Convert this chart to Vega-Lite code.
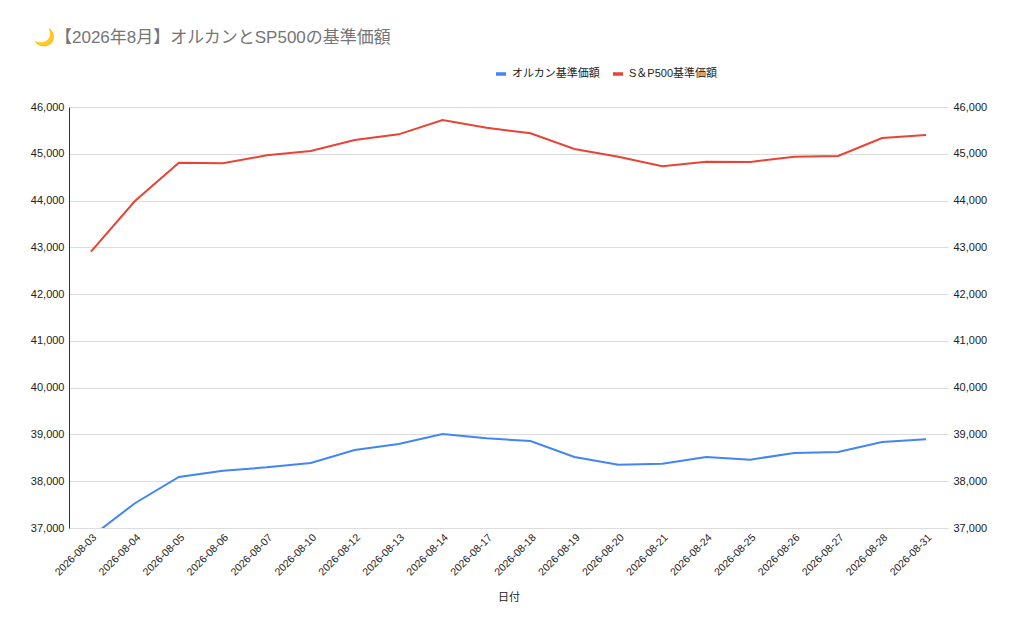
{
  "$schema": "https://vega.github.io/schema/vega-lite/v6.json",
  "width": 879,
  "height": 421,
  "autosize": {"type": "none"},
  "padding": {"left": 69, "top": 107, "right": 76, "bottom": 106},
  "background": "white",
  "config": {
    "font": "Liberation Sans, Noto Sans CJK JP, sans-serif",
    "view": {"stroke": null}
  },
  "title": {
    "text": "🌙【2026年8月】オルカンとSP500の基準価額",
    "anchor": "start",
    "frame": "group",
    "dx": -35,
    "offset": 20,
    "fontSize": 17,
    "fontWeight": "normal",
    "color": "#757575",
    "font": "Liberation Sans, Noto Sans CJK JP, sans-serif"
  },
  "data": {
    "values": [
      {"date": "2026-08-03", "series": "オルカン基準価額", "value": 36810},
      {"date": "2026-08-04", "series": "オルカン基準価額", "value": 37530},
      {"date": "2026-08-05", "series": "オルカン基準価額", "value": 38090},
      {"date": "2026-08-06", "series": "オルカン基準価額", "value": 38225},
      {"date": "2026-08-07", "series": "オルカン基準価額", "value": 38297},
      {"date": "2026-08-10", "series": "オルカン基準価額", "value": 38390},
      {"date": "2026-08-12", "series": "オルカン基準価額", "value": 38667},
      {"date": "2026-08-13", "series": "オルカン基準価額", "value": 38796},
      {"date": "2026-08-14", "series": "オルカン基準価額", "value": 39009},
      {"date": "2026-08-17", "series": "オルカン基準価額", "value": 38917},
      {"date": "2026-08-18", "series": "オルカン基準価額", "value": 38860},
      {"date": "2026-08-19", "series": "オルカン基準価額", "value": 38518},
      {"date": "2026-08-20", "series": "オルカン基準価額", "value": 38354},
      {"date": "2026-08-21", "series": "オルカン基準価額", "value": 38375},
      {"date": "2026-08-24", "series": "オルカン基準価額", "value": 38518},
      {"date": "2026-08-25", "series": "オルカン基準価額", "value": 38461},
      {"date": "2026-08-26", "series": "オルカン基準価額", "value": 38603},
      {"date": "2026-08-27", "series": "オルカン基準価額", "value": 38625},
      {"date": "2026-08-28", "series": "オルカン基準価額", "value": 38838},
      {"date": "2026-08-31", "series": "オルカン基準価額", "value": 38896},
      {"date": "2026-08-03", "series": "S＆P500基準価額", "value": 42907},
      {"date": "2026-08-04", "series": "S＆P500基準価額", "value": 43991},
      {"date": "2026-08-05", "series": "S＆P500基準価額", "value": 44809},
      {"date": "2026-08-06", "series": "S＆P500基準価額", "value": 44796},
      {"date": "2026-08-07", "series": "S＆P500基準価額", "value": 44967},
      {"date": "2026-08-10", "series": "S＆P500基準価額", "value": 45060},
      {"date": "2026-08-12", "series": "S＆P500基準価額", "value": 45295},
      {"date": "2026-08-13", "series": "S＆P500基準価額", "value": 45415},
      {"date": "2026-08-14", "series": "S＆P500基準価額", "value": 45722},
      {"date": "2026-08-17", "series": "S＆P500基準価額", "value": 45558},
      {"date": "2026-08-18", "series": "S＆P500基準価額", "value": 45437},
      {"date": "2026-08-19", "series": "S＆P500基準価額", "value": 45102},
      {"date": "2026-08-20", "series": "S＆P500基準価額", "value": 44938},
      {"date": "2026-08-21", "series": "S＆P500基準価額", "value": 44732},
      {"date": "2026-08-24", "series": "S＆P500基準価額", "value": 44831},
      {"date": "2026-08-25", "series": "S＆P500基準価額", "value": 44824},
      {"date": "2026-08-26", "series": "S＆P500基準価額", "value": 44938},
      {"date": "2026-08-27", "series": "S＆P500基準価額", "value": 44952},
      {"date": "2026-08-28", "series": "S＆P500基準価額", "value": 45337},
      {"date": "2026-08-31", "series": "S＆P500基準価額", "value": 45401}
    ]
  },
  "encoding": {
    "x": {
      "field": "date",
      "type": "ordinal",
      "scale": {"type": "point", "padding": 0.5},
      "axis": {
        "title": "日付",
        "titleFontSize": 11,
        "titleFontWeight": "normal",
        "titleColor": "#222222",
        "titlePadding": 14,
        "labelAngle": -45,
        "labelFontSize": 10.5,
        "labelColor": "#222222",
        "labelPadding": 4,
        "ticks": false,
        "domain": false,
        "grid": false
      }
    }
  },
  "layer": [
    {
      "mark": {"type": "line", "strokeWidth": 2, "clip": true},
      "encoding": {
        "y": {
          "field": "value",
          "type": "quantitative",
          "scale": {"domain": [37000, 46000], "nice": false, "zero": false},
          "axis": {
            "orient": "left",
            "title": null,
            "format": ",.0f",
            "values": [37000, 38000, 39000, 40000, 41000, 42000, 43000, 44000, 45000, 46000],
            "labelFontSize": 11,
            "labelColor": "#222222",
            "labelPadding": 5,
            "ticks": false,
            "domain": true,
            "domainColor": "#333333",
            "grid": true,
            "gridColor": "#dddddd"
          }
        },
        "color": {
          "field": "series",
          "type": "nominal",
          "sort": ["オルカン基準価額", "S＆P500基準価額"],
          "scale": {
            "domain": ["オルカン基準価額", "S＆P500基準価額"],
            "range": ["#4285F4", "#EA4335"]
          },
          "legend": {
            "title": null,
            "orient": "none",
            "direction": "horizontal",
            "legendX": 425,
            "legendY": -40,
            "symbolType": "stroke",
            "symbolSize": 100,
            "symbolStrokeWidth": 3.5,
            "labelFontSize": 11,
            "labelColor": "#222222",
            "labelOffset": 4,
            "columnPadding": 6
          }
        }
      }
    },
    {
      "mark": {"type": "line", "strokeWidth": 2, "opacity": 0, "clip": true},
      "encoding": {
        "detail": {"field": "series", "type": "nominal"},
        "y": {
          "field": "value",
          "type": "quantitative",
          "scale": {"domain": [37000, 46000], "nice": false, "zero": false},
          "axis": {
            "orient": "right",
            "title": null,
            "format": ",.0f",
            "values": [37000, 38000, 39000, 40000, 41000, 42000, 43000, 44000, 45000, 46000],
            "labelFontSize": 11,
            "labelColor": "#222222",
            "labelPadding": 5,
            "ticks": false,
            "domain": false,
            "grid": false
          }
        }
      }
    }
  ],
  "resolve": {"axis": {"y": "independent"}}
}
